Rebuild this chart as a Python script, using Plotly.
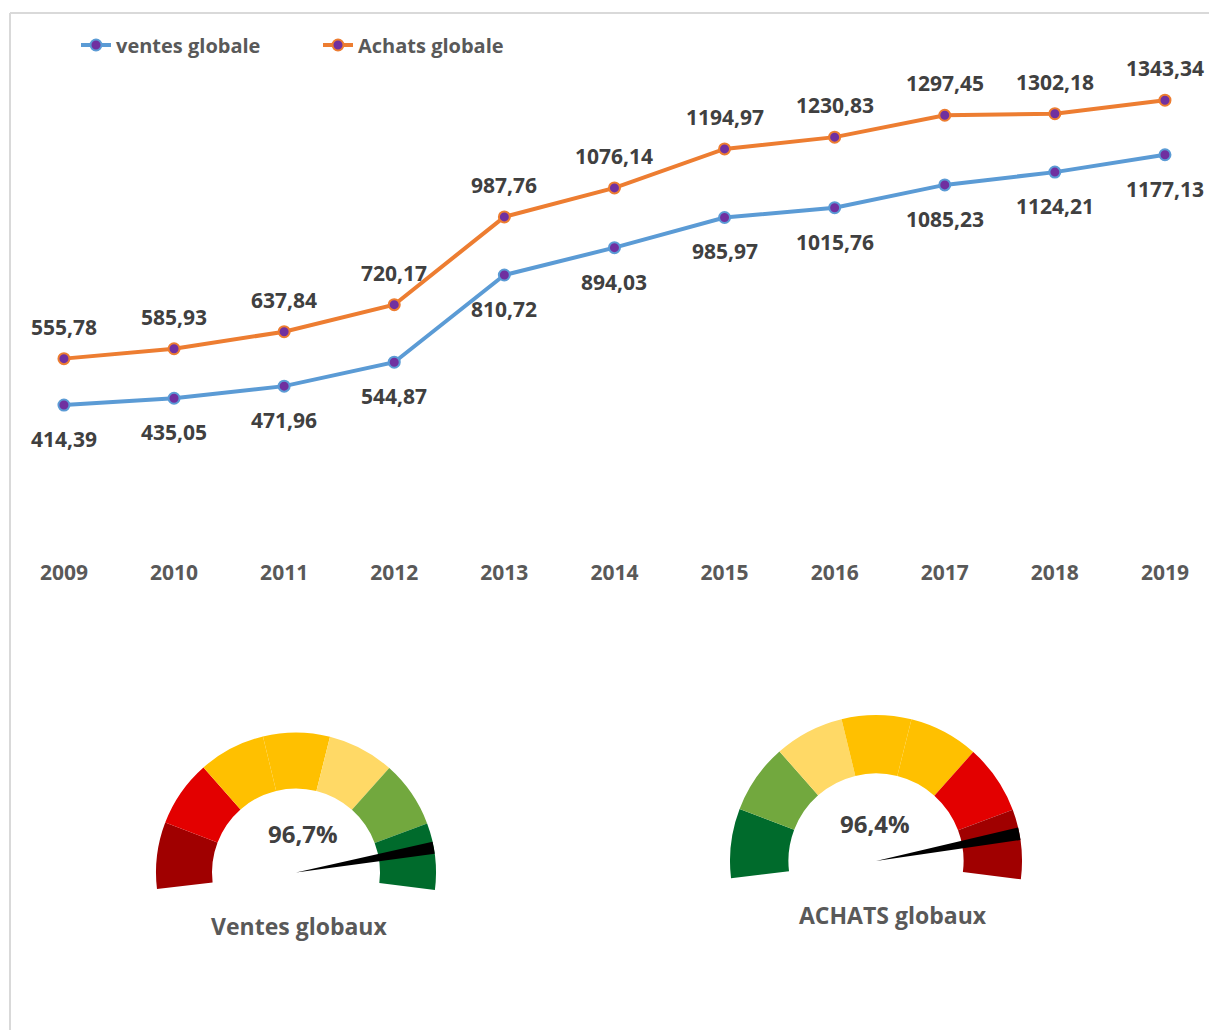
import plotly.graph_objects as go

# ---- data -------------------------------------------------------------
years = [2009, 2010, 2011, 2012, 2013, 2014, 2015, 2016, 2017, 2018, 2019]
ventes = [414.39, 435.05, 471.96, 544.87, 810.72, 894.03, 985.97, 1015.76, 1085.23, 1124.21, 1177.13]
achats = [555.78, 585.93, 637.84, 720.17, 987.76, 1076.14, 1194.97, 1230.83, 1297.45, 1302.18, 1343.34]

gauge_titles = ["Ventes globaux", "ACHATS globaux"]
gauge_values = [96.7, 96.4]

# ---- styling ----------------------------------------------------------
W, H = 1209, 1030
BLUE = "#5b9bd5"
ORANGE = "#ed7d31"
PURPLE = "#7030a0"
LABEL = "#404040"
AXIS_TXT = "#595959"
FONT = "Open Sans"

band_left = ["#a00000", "#e30000", "#ffc000", "#ffc000", "#ffd966", "#72a83e", "#006b2c"]
band_right = ["#006b2c", "#72a83e", "#ffd966", "#ffc000", "#ffc000", "#e30000", "#a00000"]

ARC_START = 186.8      # math angle (deg) where the coloured band begins
ARC_SPAN = 194.0       # angular extent of the coloured band
DEG_PER_PCT = 1.8      # needle sweep per percent
NEEDLE_W = 5.0         # needle width in degrees


def fmt(v, nd=2):
    return f"{v:.{nd}f}".replace(".", ",")


def px_x(p):
    return p / W


def px_y(p):
    return 1 - p / H


fig = go.Figure()

# ---- line chart ---------------------------------------------------------
for name, vals, col in [("ventes globale", ventes, BLUE), ("Achats globale", achats, ORANGE)]:
    fig.add_trace(go.Scatter(
        x=years, y=vals, name=name, mode="lines+markers",
        line=dict(color=col, width=4),
        marker=dict(color=PURPLE, size=11, line=dict(color=col, width=2)),
        hoverinfo="x+y",
    ))

annotations = []
for yr, v in zip(years, achats):
    annotations.append(dict(x=yr, y=v, xref="x", yref="y", text=fmt(v), showarrow=False,
                            xanchor="center", yanchor="middle", yshift=32,
                            font=dict(family=FONT, size=21, color=LABEL, weight="bold")))
for yr, v in zip(years, ventes):
    annotations.append(dict(x=yr, y=v, xref="x", yref="y", text=fmt(v), showarrow=False,
                            xanchor="center", yanchor="middle", yshift=-34,
                            font=dict(family=FONT, size=21, color=LABEL, weight="bold")))

# ---- gauges -------------------------------------------------------------
gauges = [
    dict(cx=296, cy=872.5, r=140, colors=band_left, val_xy=(303, 833), title_xy=(299, 926)),
    dict(cx=876, cy=861, r=146, colors=band_right, val_xy=(875, 823), title_xy=(893, 915)),
]

rotation = 90 - ARC_START  # plotly measures clockwise from 12 o'clock
n_seg = 7
for g, title, val in zip(gauges, gauge_titles, gauge_values):
    dom = dict(x=[px_x(g["cx"] - g["r"]), px_x(g["cx"] + g["r"])],
               y=[px_y(g["cy"] + g["r"]), px_y(g["cy"] - g["r"])])
    seg = ARC_SPAN / n_seg
    fig.add_trace(go.Pie(
        values=[seg] * n_seg + [360 - ARC_SPAN],
        marker=dict(colors=g["colors"] + ["rgba(0,0,0,0)"], line=dict(width=0)),
        hole=0.6, sort=False, direction="clockwise", rotation=rotation,
        textinfo="none", hoverinfo="skip", showlegend=False, domain=dom,
    ))
    offset = DEG_PER_PCT * val
    fig.add_trace(go.Pie(
        values=[offset, NEEDLE_W, 360 - offset - NEEDLE_W],
        marker=dict(colors=["rgba(0,0,0,0)", "#000000", "rgba(0,0,0,0)"], line=dict(width=0)),
        sort=False, direction="clockwise", rotation=rotation,
        textinfo="none", hoverinfo="skip", showlegend=False, domain=dom,
    ))
    annotations.append(dict(x=px_x(g["val_xy"][0]), y=px_y(g["val_xy"][1]), xref="paper", yref="paper",
                            xanchor="center", yanchor="middle",
                            text=fmt(val, 1) + "%", showarrow=False,
                            font=dict(family=FONT, size=24, color=LABEL, weight="bold")))
    annotations.append(dict(x=px_x(g["title_xy"][0]), y=px_y(g["title_xy"][1]), xref="paper", yref="paper",
                            xanchor="center", yanchor="middle",
                            text=title, showarrow=False,
                            font=dict(family=FONT, size=23, color=AXIS_TXT, weight="bold")))

# ---- frame --------------------------------------------------------------
shapes = [
    dict(type="line", xref="paper", yref="paper", x0=px_x(10), x1=1, y0=px_y(13), y1=px_y(13),
         line=dict(color="#d9d9d9", width=2)),
    dict(type="line", xref="paper", yref="paper", x0=px_x(10), x1=px_x(10), y0=px_y(13), y1=0,
         line=dict(color="#d9d9d9", width=2)),
]

fig.update_layout(
    width=W, height=H,
    margin=dict(l=0, r=0, t=0, b=0),
    paper_bgcolor="white", plot_bgcolor="white",
    annotations=annotations, shapes=shapes,
    xaxis=dict(domain=[px_x(19.9), 1.0], range=[2008.6, 2019.4], tickvals=years,
               ticktext=[str(y) for y in years], showgrid=False, zeroline=False, showline=False,
               ticks="outside", ticklen=13, tickcolor="rgba(0,0,0,0)",
               tickfont=dict(family=FONT, size=21, color=AXIS_TXT, weight="bold")),
    yaxis=dict(domain=[px_y(541), px_y(16)], range=[0, 1600], visible=False),
    legend=dict(orientation="h", x=px_x(76), y=px_y(45), xanchor="left", yanchor="middle",
                font=dict(family=FONT, size=20, color=AXIS_TXT, weight="bold"),
                entrywidth=197, bgcolor="rgba(0,0,0,0)"),
    showlegend=True,
)

fig.write_html("out.html")
